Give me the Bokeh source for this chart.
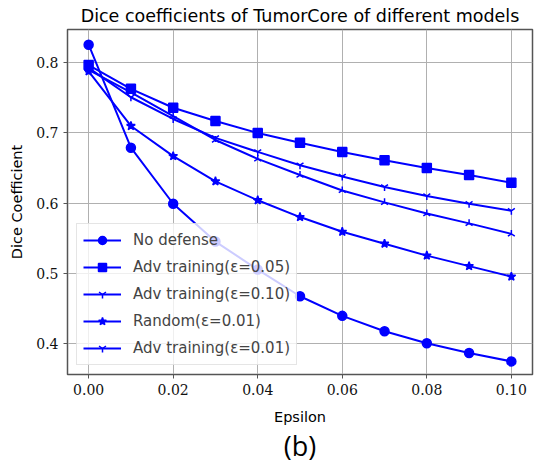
import numpy as np
from bokeh.plotting import figure
from bokeh.models import (Range1d, FixedTicker, NumeralTickFormatter, Legend, LegendItem, Title)
from bokeh.embed import file_html
from bokeh.resources import INLINE

eps = [0.00, 0.01, 0.02, 0.03, 0.04, 0.05, 0.06, 0.07, 0.08, 0.09, 0.10]
no_defense = [0.826, 0.679, 0.599, 0.545, 0.505, 0.467, 0.439, 0.417, 0.400, 0.386, 0.374]
adv_005 = [0.797, 0.763, 0.736, 0.717, 0.700, 0.686, 0.673, 0.661, 0.650, 0.640, 0.629]
adv_010 = [0.793, 0.751, 0.720, 0.693, 0.673, 0.654, 0.638, 0.623, 0.610, 0.599, 0.589]
random_001 = [0.788, 0.710, 0.667, 0.631, 0.604, 0.580, 0.559, 0.542, 0.525, 0.510, 0.495]
adv_001 = [0.790, 0.758, 0.724, 0.690, 0.663, 0.640, 0.618, 0.601, 0.585, 0.571, 0.556]

labels = ["No defense", "Adv training(\u03b5=0.05)", "Adv training(\u03b5=0.10)",
          "Random(\u03b5=0.01)", "Adv training(\u03b5=0.01)"]
x_ticks = [0.00, 0.02, 0.04, 0.06, 0.08, 0.10]
y_ticks = [0.4, 0.5, 0.6, 0.7, 0.8]

BLUE = "#0000ff"

p = figure(width=534, height=463, output_backend="svg", toolbar_location=None,
           x_range=Range1d(-0.005, 0.105), y_range=Range1d(0.3553, 0.8477),
           min_border_left=67, min_border_right=2, min_border_top=29, min_border_bottom=89)

p.title.text = "Dice coefficients of TumorCore of different models"
p.title.text_font = "DejaVu Sans"
p.title.text_font_size = "17.5px"
p.title.text_font_style = "normal"
p.title.align = "center"
p.title.text_color = "#000000"
p.title.standoff = 7

series = [no_defense, adv_005, adv_010, random_001, adv_001]
markers = ["circle", "square", "y", "star", "y"]
sizes = [9, 9, 8, 9, 8]
angles = [0, 0, 0, 0, np.pi]
items = []
for ys, m, s, a, lab in zip(series, markers, sizes, angles, labels):
    r1 = p.line(eps, ys, line_color=BLUE, line_width=2)
    r2 = p.scatter(eps, ys, marker=m, size=s, angle=a, fill_color=BLUE, line_color=BLUE, line_width=1.5)
    items.append(LegendItem(label=lab, renderers=[r1, r2]))

legend = Legend(items=items, location="bottom_left")
legend.label_text_font = "DejaVu Sans"
legend.label_text_font_size = "15px"
legend.glyph_width = 38
legend.glyph_height = 20
legend.spacing = 7
legend.label_standoff = 12
legend.padding = 6
legend.margin = 9
legend.background_fill_alpha = 0.8
legend.border_line_color = "#cccccc"
legend.border_line_width = 1
p.add_layout(legend)

p.xaxis.ticker = FixedTicker(ticks=x_ticks)
p.yaxis.ticker = FixedTicker(ticks=y_ticks)
p.xaxis.formatter = NumeralTickFormatter(format="0.00")
p.yaxis.formatter = NumeralTickFormatter(format="0.0")
for ax in (p.xaxis, p.yaxis):
    ax.major_label_text_font = "DejaVu Serif"
    ax.major_label_text_font_size = "14px"
    ax.major_label_text_color = "#111111"
    ax.minor_tick_line_color = None
    ax.major_tick_in = 0
    ax.major_tick_out = 4
    ax.axis_line_color = "#555555"
    ax.major_tick_line_color = "#555555"
    ax.axis_label_text_font = "DejaVu Sans"
    ax.axis_label_text_font_size = "14.5px"
    ax.axis_label_text_font_style = "normal"
    ax.axis_label_text_color = "#000000"
p.xaxis.axis_label = "Epsilon"
p.yaxis.axis_label = "Dice Coefficient"
p.xaxis.axis_label_standoff = 11
p.yaxis.axis_label_standoff = 8

p.xgrid.ticker = FixedTicker(ticks=x_ticks)
p.ygrid.ticker = FixedTicker(ticks=y_ticks)
p.grid.grid_line_color = "#b0b0b0"
p.grid.grid_line_width = 1
p.outline_line_color = "#555555"
p.outline_line_width = 1.5

sub = Title(text="(b)", align="center", text_font="Open Sans", text_font_size="27px",
            text_font_style="normal", text_color="#000000", standoff=-6)
p.add_layout(sub, "below")

open("out.html", "w").write(file_html(p, INLINE))
